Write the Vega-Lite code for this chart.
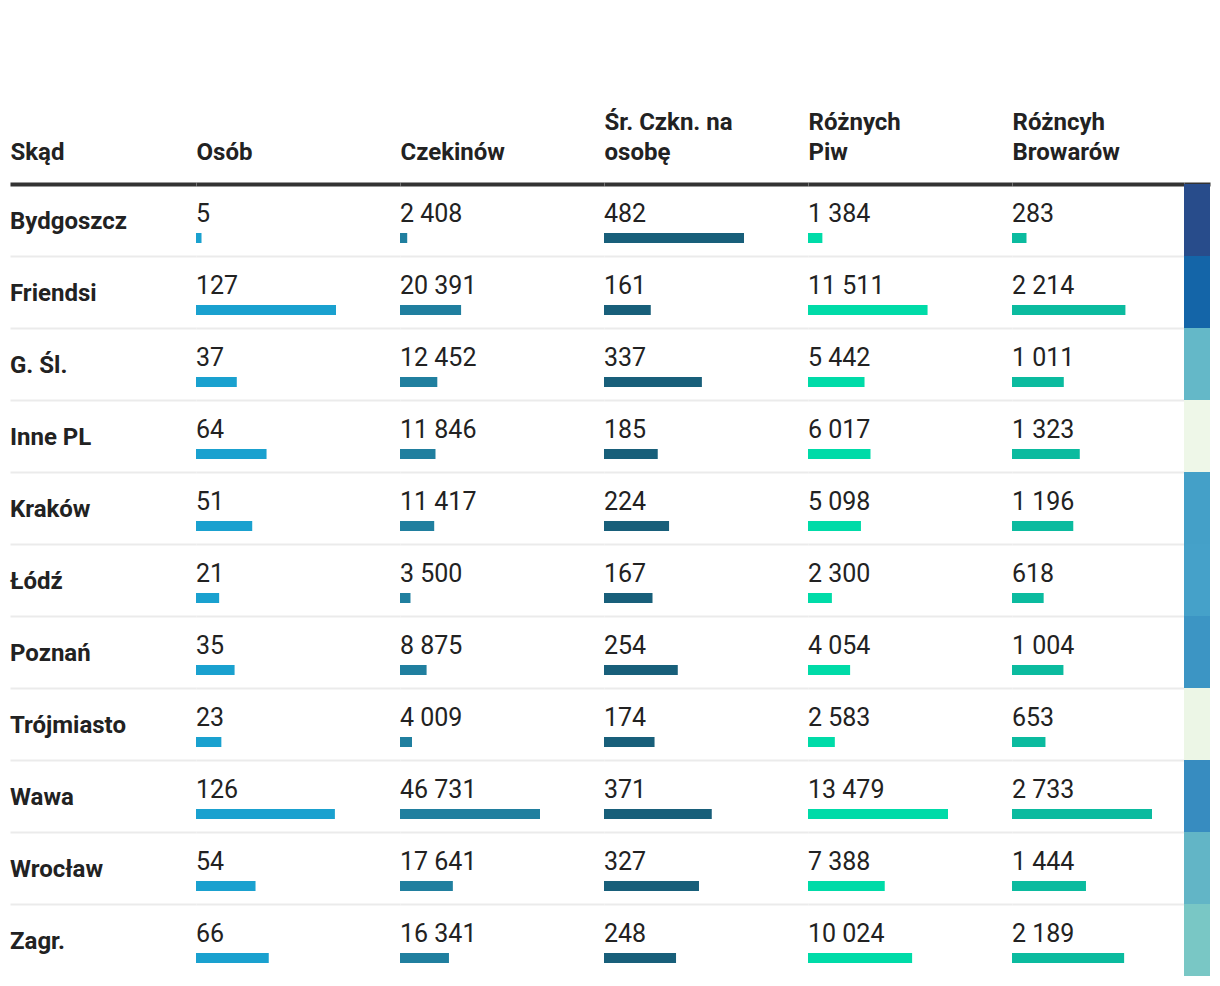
{
  "$schema": "https://vega.github.io/schema/vega-lite/v6.json",
  "padding": {"left": 10, "right": 10, "top": 110, "bottom": 0},
  "background": "white",
  "spacing": 0,
  "config": {
    "locale": {"number": {"decimal": ",", "thousands": " ", "grouping": [3], "currency": ["", " zł"]}},
    "view": {"stroke": null},
    "font": "Roboto",
    "axisX": {"labels": false, "ticks": false, "grid": false, "domain": true, "domainColor": "#333333", "domainWidth": 4, "titleAnchor": "start", "titleAlign": "left", "titleBaseline": "bottom", "titleFontSize": 24, "titleFontWeight": "bold", "titleColor": "#222222", "titleLineHeight": 30, "titlePadding": 20},
    "axisY": {"labels": false, "ticks": false, "domain": false, "grid": true, "gridColor": "#ebebeb", "gridWidth": 2, "bandPosition": 0}
  },
  "datasets": {
    "t": [
      {"miasto": "Bydgoszcz", "osob": 5, "czekinow": 2408, "srednia": 482, "piw": 1384, "browarow": 283},
      {"miasto": "Friendsi", "osob": 127, "czekinow": 20391, "srednia": 161, "piw": 11511, "browarow": 2214},
      {"miasto": "G. Śl.", "osob": 37, "czekinow": 12452, "srednia": 337, "piw": 5442, "browarow": 1011},
      {"miasto": "Inne PL", "osob": 64, "czekinow": 11846, "srednia": 185, "piw": 6017, "browarow": 1323},
      {"miasto": "Kraków", "osob": 51, "czekinow": 11417, "srednia": 224, "piw": 5098, "browarow": 1196},
      {"miasto": "Łódź", "osob": 21, "czekinow": 3500, "srednia": 167, "piw": 2300, "browarow": 618},
      {"miasto": "Poznań", "osob": 35, "czekinow": 8875, "srednia": 254, "piw": 4054, "browarow": 1004},
      {"miasto": "Trójmiasto", "osob": 23, "czekinow": 4009, "srednia": 174, "piw": 2583, "browarow": 653},
      {"miasto": "Wawa", "osob": 126, "czekinow": 46731, "srednia": 371, "piw": 13479, "browarow": 2733},
      {"miasto": "Wrocław", "osob": 54, "czekinow": 17641, "srednia": 327, "piw": 7388, "browarow": 1444},
      {"miasto": "Zagr.", "osob": 66, "czekinow": 16341, "srednia": 248, "piw": 10024, "browarow": 2189}
    ]
  },
  "hconcat": [
    {
      "width": 186, "height": 792,
      "data": {"name": "t"},
      "layer": [
        {"mark": {"type": "rule", "strokeOpacity": 0},
         "encoding": {
           "y": {"field": "miasto", "type": "nominal", "sort": null, "scale": {"paddingInner": 0, "paddingOuter": 0}, "axis": {"title": null, "bandPosition": 0, "grid": true}},
           "x": {"datum": 0, "type": "quantitative", "scale": {"domain": [0, 1], "nice": false}, "axis": {"orient": "top", "title": "Skąd"}}
         }},
        {"mark": {"type": "text", "align": "left", "baseline": "alphabetic", "dy": 9, "fontSize": 24, "fontWeight": "bold", "color": "#222222"},
         "encoding": {
           "y": {"field": "miasto", "type": "nominal", "sort": null},
           "x": {"datum": 0, "type": "quantitative"},
           "text": {"field": "miasto", "type": "nominal"}
         }}
      ]
    },
    {
      "width": 204, "height": 792,
      "data": {"name": "t"},
      "layer": [
        {"mark": {"type": "bar", "height": 10, "yOffset": 18, "color": "#1aa1cf"},
         "encoding": {
           "y": {"field": "miasto", "type": "nominal", "sort": null, "scale": {"paddingInner": 0, "paddingOuter": 0}, "axis": {"title": null}},
           "x": {"field": "osob", "type": "quantitative", "scale": {"domain": [0, 185.06], "nice": false}, "axis": {"orient": "top", "title": "Osób"}}
         }},
        {"mark": {"type": "text", "align": "left", "baseline": "alphabetic", "dy": 2, "fontSize": 25, "color": "#222222"},
         "encoding": {
           "y": {"field": "miasto", "type": "nominal", "sort": null},
           "x": {"datum": 0, "type": "quantitative"},
           "text": {"field": "osob", "type": "quantitative", "format": ",d"}
         }}
      ]
    },
    {
      "width": 204, "height": 792,
      "data": {"name": "t"},
      "layer": [
        {"mark": {"type": "bar", "height": 10, "yOffset": 18, "color": "#207f9f"},
         "encoding": {
           "y": {"field": "miasto", "type": "nominal", "sort": null, "scale": {"paddingInner": 0, "paddingOuter": 0}, "axis": {"title": null}},
           "x": {"field": "czekinow", "type": "quantitative", "scale": {"domain": [0, 68093.6], "nice": false}, "axis": {"orient": "top", "title": "Czekinów"}}
         }},
        {"mark": {"type": "text", "align": "left", "baseline": "alphabetic", "dy": 2, "fontSize": 25, "color": "#222222"},
         "encoding": {
           "y": {"field": "miasto", "type": "nominal", "sort": null},
           "x": {"datum": 0, "type": "quantitative"},
           "text": {"field": "czekinow", "type": "quantitative", "format": ",d"}
         }}
      ]
    },
    {
      "width": 204, "height": 792,
      "data": {"name": "t"},
      "layer": [
        {"mark": {"type": "bar", "height": 10, "yOffset": 18, "color": "#185f7a"},
         "encoding": {
           "y": {"field": "miasto", "type": "nominal", "sort": null, "scale": {"paddingInner": 0, "paddingOuter": 0}, "axis": {"title": null}},
           "x": {"field": "srednia", "type": "quantitative", "scale": {"domain": [0, 702.3], "nice": false}, "axis": {"orient": "top", "title": ["Śr. Czkn. na", "osobę"]}}
         }},
        {"mark": {"type": "text", "align": "left", "baseline": "alphabetic", "dy": 2, "fontSize": 25, "color": "#222222"},
         "encoding": {
           "y": {"field": "miasto", "type": "nominal", "sort": null},
           "x": {"datum": 0, "type": "quantitative"},
           "text": {"field": "srednia", "type": "quantitative", "format": ",d"}
         }}
      ]
    },
    {
      "width": 204, "height": 792,
      "data": {"name": "t"},
      "layer": [
        {"mark": {"type": "bar", "height": 10, "yOffset": 18, "color": "#00dba8"},
         "encoding": {
           "y": {"field": "miasto", "type": "nominal", "sort": null, "scale": {"paddingInner": 0, "paddingOuter": 0}, "axis": {"title": null}},
           "x": {"field": "piw", "type": "quantitative", "scale": {"domain": [0, 19640.6], "nice": false}, "axis": {"orient": "top", "title": ["Różnych", "Piw"]}}
         }},
        {"mark": {"type": "text", "align": "left", "baseline": "alphabetic", "dy": 2, "fontSize": 25, "color": "#222222"},
         "encoding": {
           "y": {"field": "miasto", "type": "nominal", "sort": null},
           "x": {"datum": 0, "type": "quantitative"},
           "text": {"field": "piw", "type": "quantitative", "format": ",d"}
         }}
      ]
    },
    {
      "width": 172, "height": 792,
      "data": {"name": "t"},
      "layer": [
        {"mark": {"type": "bar", "height": 10, "yOffset": 18, "color": "#0bbb9f"},
         "encoding": {
           "y": {"field": "miasto", "type": "nominal", "sort": null, "scale": {"paddingInner": 0, "paddingOuter": 0}, "axis": {"title": null}},
           "x": {"field": "browarow", "type": "quantitative", "scale": {"domain": [0, 3357.7], "nice": false}, "axis": {"orient": "top", "title": ["Różncyh", "Browarów"]}}
         }},
        {"mark": {"type": "text", "align": "left", "baseline": "alphabetic", "dy": 2, "fontSize": 25, "color": "#222222"},
         "encoding": {
           "y": {"field": "miasto", "type": "nominal", "sort": null},
           "x": {"datum": 0, "type": "quantitative"},
           "text": {"field": "browarow", "type": "quantitative", "format": ",d"}
         }}
      ]
    },
    {
      "width": 26, "height": 792,
      "data": {"name": "t"},
      "mark": {"type": "rect"},
      "encoding": {
        "y": {"field": "miasto", "type": "nominal", "sort": null, "scale": {"paddingInner": 0, "paddingOuter": 0}, "axis": null},
        "x": {"datum": 0, "type": "quantitative", "scale": {"domain": [0, 1], "nice": false}, "axis": {"orient": "top", "title": null}},
        "x2": {"datum": 1},
        "color": {"field": "miasto", "type": "nominal", "legend": null,
          "scale": {"domain": ["Bydgoszcz", "Friendsi", "G. Śl.", "Inne PL", "Kraków", "Łódź", "Poznań", "Trójmiasto", "Wawa", "Wrocław", "Zagr."],
                    "range": ["#284c8b", "#1465a8", "#64b8c8", "#eef7e8", "#44a0c8", "#45a1c9", "#3c95c4", "#ecf6e6", "#378cc0", "#62b5c6", "#79c7c5"]}}
      }
    }
  ]
}
